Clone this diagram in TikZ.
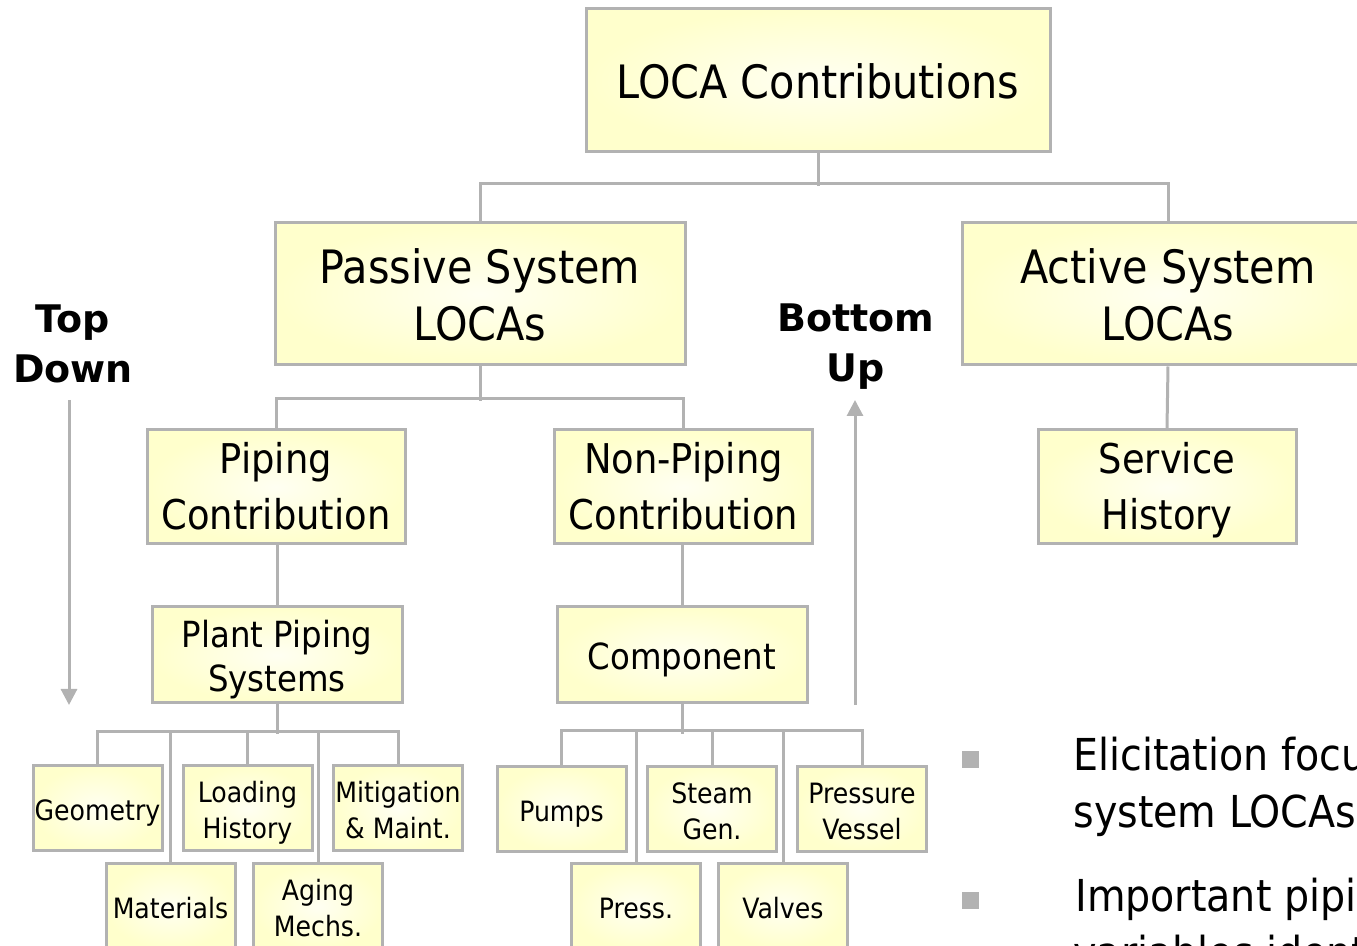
\documentclass[tikz,border=0pt]{standalone}
\usepackage{fontspec}
\setmainfont{DejaVu Sans Condensed}
\newfontfamily\sidefont{DejaVu Sans}
\usetikzlibrary{arrows.meta}
\definecolor{boxfill}{HTML}{FFFFCC}
\definecolor{boxinner}{HTML}{FFFFF2}
\definecolor{boxline}{HTML}{B2B2B2}
% text blocks with fixed line struts, lowered without changing extents
\newcommand{\rtext}[2]{\raisebox{#1}[\height][\depth]{\begin{tabular}{@{}c@{}}#2\end{tabular}}}
\newcommand{\lvlA}[1]{\rtext{-3.5pt}{#1}}
\newcommand{\lvlB}[1]{\rtext{-1.9pt}{#1}}
\newcommand{\lvlC}[1]{\rtext{-3.1pt}{#1}}
\newcommand{\lvlD}[1]{\rtext{-2.6pt}{#1}}
\newcommand{\lvlS}[1]{\rtext{0pt}{#1}}
\tikzset{
  box/.style={draw=boxline, line width=1.5pt, inner color=boxinner, outer color=boxfill, inner sep=0pt},
  lone/.style={box, minimum width=205pt, minimum height=71pt, font=\fontsize{23}{28.5}\selectfont},
  ltwo/.style={box, minimum width=129pt, minimum height=57pt, font=\fontsize{20.5}{28}\selectfont},
  lthree/.style={box, minimum width=125pt, minimum height=48pt, font=\fontsize{18}{22}\selectfont},
  leaf/.style={box, minimum width=64.5pt, minimum height=42.5pt, font=\fontsize{14}{18}\selectfont},
  conn/.style={draw=boxline, line width=1.5pt},
  arrow/.style={draw=boxline, line width=1.5pt, -{Triangle[width=8pt,length=8pt]}},
  side/.style={inner sep=0pt, font=\sidefont\bfseries\fontsize{19}{25}\selectfont},
  bulletsq/.style={fill=boxline, inner sep=0pt, minimum size=8.5pt},
  btext/.style={anchor=base west, inner sep=0pt, font=\fontsize{22}{28}\selectfont}
}
\begin{document}
\begin{tikzpicture}[x=0.5pt,y=-0.5pt]
\useasboundingbox (0,0) rectangle (1357,946);
\clip (0,0) rectangle (1357,946);
% boxes
\node[lone, minimum width=232pt, minimum height=71.5pt] (loca) at (818,80.5) {\lvlA{LOCA Contributions}};
\node[lone] (passive) at (480,294) {\lvlA{Passive System\\LOCAs}};
\node[lone, minimum width=206pt] (active) at (1168,294) {\lvlA{Active System\\LOCAs}};
\node[ltwo] (piping) at (276,487) {\lvlB{Piping\\Contribution}};
\node[ltwo] (nonpiping) at (683.5,487) {\lvlB{Non-Piping\\Contribution}};
\node[ltwo] (service) at (1167,487) {\lvlB{Service\\History}};
\node[lthree] (plant) at (277,655) {\lvlC{Plant Piping\\Systems}};
\node[lthree] (component) at (682,655) {\lvlC{Component}};
\node[leaf] (geometry) at (97.5,808.5) {\lvlD{Geometry}};
\node[leaf] (loading) at (247.5,808.5) {\lvlD{Loading\\History}};
\node[leaf] (mitigation) at (398,808.5) {\lvlD{Mitigation\\\& Maint.}};
\node[leaf] (materials) at (170.5,906.5) {\lvlD{Materials}};
\node[leaf] (aging) at (318,906.5) {\lvlD{Aging\\Mechs.}};
\node[leaf] (pumps) at (561.5,809) {\lvlD{Pumps}};
\node[leaf] (steam) at (712,809) {\lvlD{Steam\\Gen.}};
\node[leaf] (pressure) at (862,809) {\lvlD{Pressure\\Vessel}};
\node[leaf] (press) at (636,906.5) {\lvlD{Press.}};
\node[leaf] (valves) at (783,906.5) {\lvlD{Valves}};
% connectors
\draw[conn] (loca.south) -- ++(0,33);
\draw[conn] (passive.north) -- ++(0,-38) -| (active.north);
\draw[conn] (passive.south) -- ++(0,35);
\draw[conn] (piping.north) -- ++(0,-30) -| (nonpiping.north);
\draw[conn] (active.south) -- (service.north);
\draw[conn] (plant.north) -- (plant.north |- piping.south);
\draw[conn] (component.north) -- (component.north |- nonpiping.south);
\draw[conn] (plant.south) -- ++(0,30);
\draw[conn] (geometry.north) -- ++(0,-33) -| (mitigation.north);
\draw[conn] (loading.north) -- ++(0,-33);
\draw[conn] (materials.north) -- ++(0,-131);
\draw[conn] (aging.north) -- ++(0,-131);
\draw[conn] (component.south) -- ++(0,30);
\draw[conn] (pumps.north) -- ++(0,-34) -| (pressure.north);
\draw[conn] (steam.north) -- ++(0,-34);
\draw[conn] (press.north) -- ++(0,-131);
\draw[conn] (valves.north) -- ++(0,-131);
% side labels and arrows
\node[side] (topdown) at (73,348) {\lvlS{Top\\Down}};
\coordinate (tdEnd) at (69,705);
\draw[arrow] (tdEnd |- 0,400) -- (tdEnd);
\node[side] (bottomup) at (856,347) {\lvlS{Bottom\\Up}};
\coordinate (buStart) at (855,705);
\draw[arrow] (buStart) -- (buStart |- 0,400);
% bullets
\node[bulletsq] (bul1) at (970.5,759.5) {};
\node[bulletsq] (bul2) at (970.5,900.5) {};
\node[btext] (t1) at (1073,771) {Elicitation focused on passive};
\node[btext] (t2) at (1073,828) {system LOCAs};
\node[btext] (t3) at (1075,912) {Important piping};
\node[btext] (t4) at (1073,969) {variables identified};
\end{tikzpicture}
\end{document}
